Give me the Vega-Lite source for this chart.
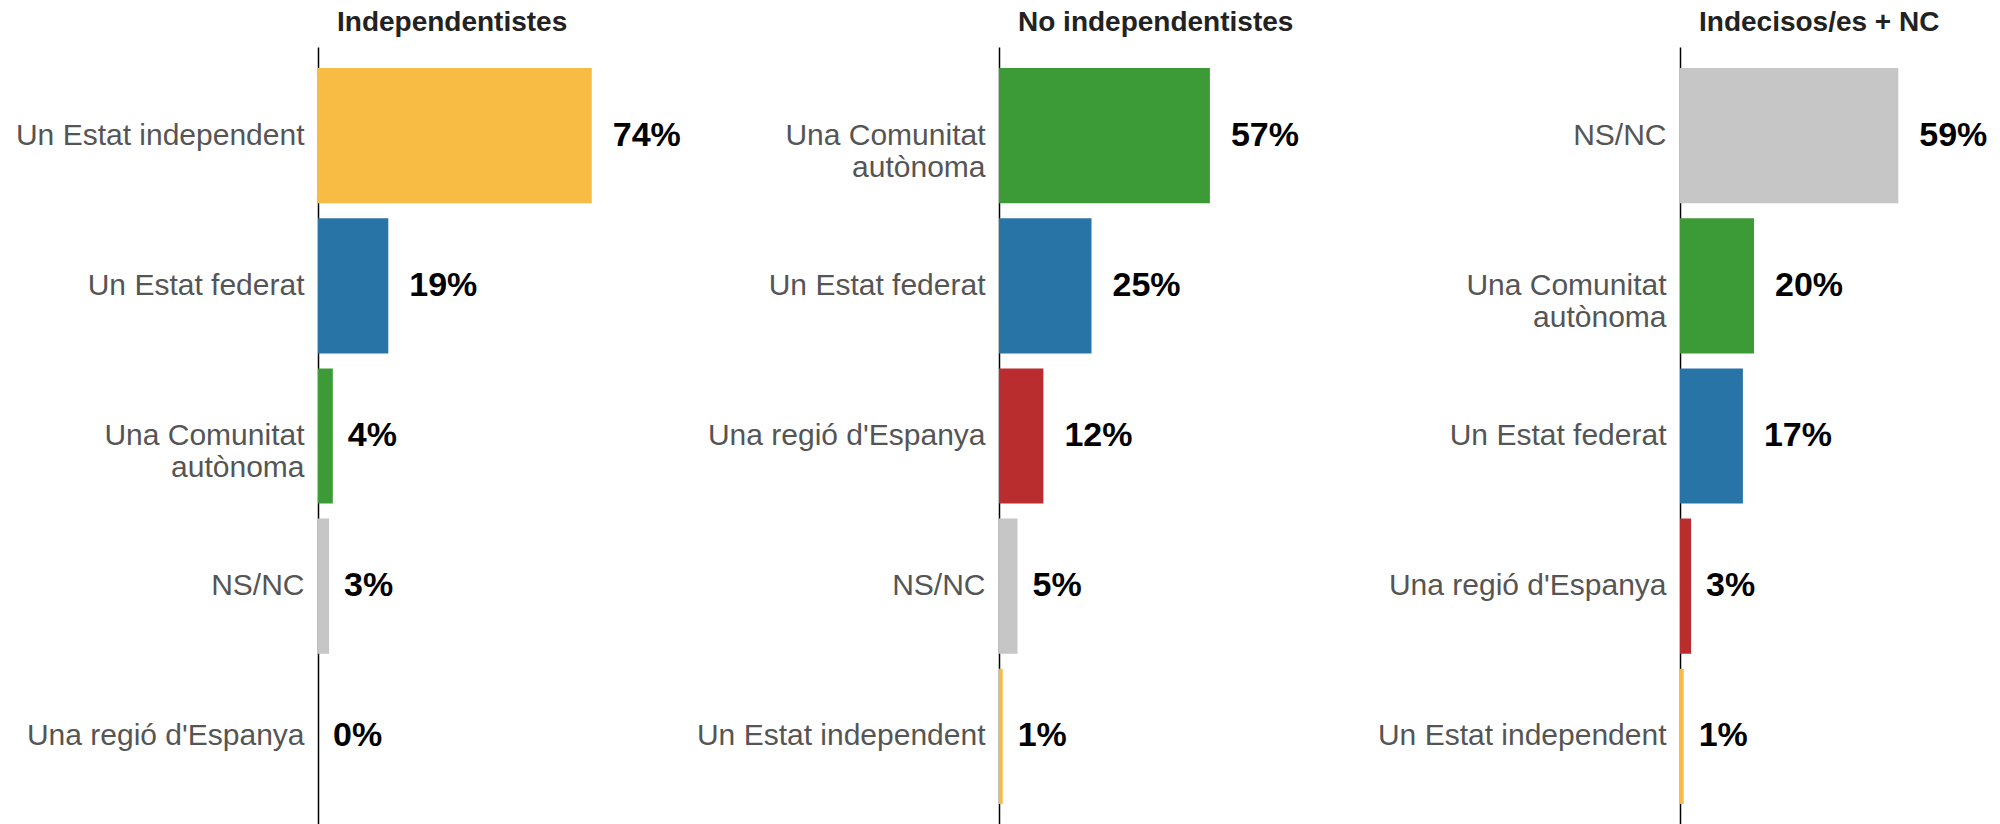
{
  "$schema": "https://vega.github.io/schema/vega-lite/v6.json",
  "padding": {"left": 15, "top": 9, "right": 5, "bottom": 0},
  "background": "white",
  "data": {"values": [
    {"grup": "Independentistes", "resposta": "Un Estat independent", "pct": 0.74},
    {"grup": "Independentistes", "resposta": "Un Estat federat", "pct": 0.19},
    {"grup": "Independentistes", "resposta": "Una Comunitat autònoma", "pct": 0.04},
    {"grup": "Independentistes", "resposta": "NS/NC", "pct": 0.03},
    {"grup": "Independentistes", "resposta": "Una regió d'Espanya", "pct": 0.0},
    {"grup": "No independentistes", "resposta": "Una Comunitat autònoma", "pct": 0.57},
    {"grup": "No independentistes", "resposta": "Un Estat federat", "pct": 0.25},
    {"grup": "No independentistes", "resposta": "Una regió d'Espanya", "pct": 0.12},
    {"grup": "No independentistes", "resposta": "NS/NC", "pct": 0.05},
    {"grup": "No independentistes", "resposta": "Un Estat independent", "pct": 0.01},
    {"grup": "Indecisos/es + NC", "resposta": "NS/NC", "pct": 0.59},
    {"grup": "Indecisos/es + NC", "resposta": "Una Comunitat autònoma", "pct": 0.20},
    {"grup": "Indecisos/es + NC", "resposta": "Un Estat federat", "pct": 0.17},
    {"grup": "Indecisos/es + NC", "resposta": "Una regió d'Espanya", "pct": 0.03},
    {"grup": "Indecisos/es + NC", "resposta": "Un Estat independent", "pct": 0.01}
  ]},
  "bounds": "flush",
  "spacing": 366,
  "hconcat": [
    {
      "title": {"text": "Independentistes"},
      "transform": [{"filter": "datum.grup == 'Independentistes'"}],
      "width": 314.5, "height": 778,
      "encoding": {
        "y": {"field": "resposta", "type": "nominal", "title": null,
              "sort": ["Un Estat independent", "Un Estat federat", "Una Comunitat autònoma", "NS/NC", "Una regió d'Espanya"]},
        "x": {"field": "pct", "type": "quantitative", "scale": {"domain": [0, 0.85]}, "axis": null}
      },
      "layer": [
        {"mark": {"type": "bar"}, "encoding": {"color": {"field": "resposta", "type": "nominal", "legend": null}}},
        {"transform": [{"filter": "datum.pct < 0.1"}], "mark": {"type": "text", "dx": 15}, "encoding": {"text": {"field": "pct", "type": "quantitative", "format": ".0%"}}},
        {"transform": [{"filter": "datum.pct >= 0.1"}], "mark": {"type": "text", "dx": 21}, "encoding": {"text": {"field": "pct", "type": "quantitative", "format": ".0%"}}}
      ]
    },
    {
      "title": {"text": "No independentistes"},
      "transform": [{"filter": "datum.grup == 'No independentistes'"}],
      "width": 314.5, "height": 778,
      "encoding": {
        "y": {"field": "resposta", "type": "nominal", "title": null,
              "sort": ["Una Comunitat autònoma", "Un Estat federat", "Una regió d'Espanya", "NS/NC", "Un Estat independent"]},
        "x": {"field": "pct", "type": "quantitative", "scale": {"domain": [0, 0.85]}, "axis": null}
      },
      "layer": [
        {"mark": {"type": "bar"}, "encoding": {"color": {"field": "resposta", "type": "nominal", "legend": null}}},
        {"transform": [{"filter": "datum.pct < 0.1"}], "mark": {"type": "text", "dx": 15}, "encoding": {"text": {"field": "pct", "type": "quantitative", "format": ".0%"}}},
        {"transform": [{"filter": "datum.pct >= 0.1"}], "mark": {"type": "text", "dx": 21}, "encoding": {"text": {"field": "pct", "type": "quantitative", "format": ".0%"}}}
      ]
    },
    {
      "title": {"text": "Indecisos/es + NC"},
      "transform": [{"filter": "datum.grup == 'Indecisos/es + NC'"}],
      "width": 314.5, "height": 778,
      "encoding": {
        "y": {"field": "resposta", "type": "nominal", "title": null,
              "sort": ["NS/NC", "Una Comunitat autònoma", "Un Estat federat", "Una regió d'Espanya", "Un Estat independent"]},
        "x": {"field": "pct", "type": "quantitative", "scale": {"domain": [0, 0.85]}, "axis": null}
      },
      "layer": [
        {"mark": {"type": "bar"}, "encoding": {"color": {"field": "resposta", "type": "nominal", "legend": null}}},
        {"transform": [{"filter": "datum.pct < 0.1"}], "mark": {"type": "text", "dx": 15}, "encoding": {"text": {"field": "pct", "type": "quantitative", "format": ".0%"}}},
        {"transform": [{"filter": "datum.pct >= 0.1"}], "mark": {"type": "text", "dx": 21}, "encoding": {"text": {"field": "pct", "type": "quantitative", "format": ".0%"}}}
      ]
    }
  ],
  "resolve": {"scale": {"y": "independent", "color": "shared"}},
  "config": {
    "font": "Liberation Sans",
    "view": {"stroke": null},
    "scale": {"bandPaddingInner": 0.1, "bandPaddingOuter": 0.14},
    "range": {"category": ["#C6C6C6", "#2874A6", "#F8BC45", "#3D9B37", "#B92D2F"]},
    "bar": {"orient": "horizontal"},
    "text": {"align": "left", "baseline": "middle", "fontSize": 34, "fontWeight": "bold", "color": "#000000", "font": "Liberation Sans"},
    "title": {"anchor": "start", "frame": "group", "dx": 19, "fontSize": 28, "fontWeight": "bold", "color": "#222222", "font": "Liberation Sans", "baseline": "alphabetic", "offset": 10},
    "axisY": {
      "ticks": false,
      "domainColor": "#000000",
      "domainWidth": 1.5,
      "labelFont": "Liberation Sans",
      "labelFontSize": 30,
      "labelColor": "#555555",
      "labelPadding": 14,
      "labelLimit": 0,
      "labelLineHeight": 32,
      "labelExpr": "datum.value == 'Una Comunitat autònoma' ? ['Una Comunitat', 'autònoma'] : datum.value"
    }
  }
}
